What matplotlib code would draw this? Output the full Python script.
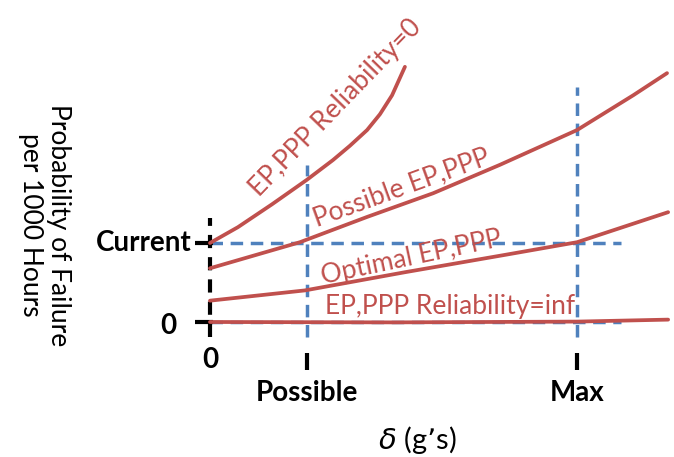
import matplotlib
matplotlib.use("Agg")
import matplotlib.pyplot as plt

plt.rcParams["font.family"] = ["Lato", "DejaVu Sans"]
plt.rcParams["lines.scale_dashes"] = False

RED = "#C0504D"
BLUE = "#4F81BD"

# Horizontal axis: delta in units of the maximum allowed acceleration
x_ticks = [0.0, 0.264, 1.0]
x_tick_labels = ["0", "Possible", "Max"]
# Vertical axis: probability of failure in units of the current value
y_ticks = [0.0, 1.0]
y_tick_labels = ["0", "Current"]

# Failure-probability curves vs. delta
rel0_x = [0.0, 0.076, 0.169, 0.264, 0.335, 0.381, 0.428, 0.463, 0.496, 0.531]
rel0_y = [1.00, 1.20, 1.49, 1.80, 2.05, 2.23, 2.43, 2.63, 2.87, 3.23]

possible_x = [0.0, 0.245, 0.428, 0.608, 0.790, 1.0, 1.153, 1.245]
possible_y = [0.68, 1.01, 1.33, 1.63, 1.99, 2.43, 2.87, 3.15]

optimal_x = [0.0, 0.259, 0.531, 0.804, 1.0, 1.248]
optimal_y = [0.27, 0.40, 0.63, 0.85, 1.01, 1.39]

relinf_x = [0.0, 0.5, 1.0, 1.248]
relinf_y = [0.0, -0.005, 0.005, 0.03]

fig = plt.figure(figsize=(6.74, 4.57), dpi=100)
ax = fig.add_axes([0, 0, 1, 1])
ax.set_xlim(-0.572, 1.264)
ax.set_ylim(-1.709, 4.076)
ax.axis("off")

# Reference guide lines (blue dashed)
blue_kw = dict(color=BLUE, lw=2.5, dashes=(9, 5.5), solid_capstyle="butt")
ax.plot([x_ticks[1], x_ticks[1]], [-0.19, 1.99], **blue_kw)
ax.plot([x_ticks[2], x_ticks[2]], [-0.19, 2.97], **blue_kw)
ax.plot([0, 1.12], [y_ticks[1], y_ticks[1]], **blue_kw)
ax.plot([0, 1.12], [y_ticks[0], y_ticks[0]], **blue_kw)

# Vertical axis (black dashed) with tick marks
ax.plot([0, 0], [-0.19, 1.32], color="black", lw=3, dashes=(9.5, 6.5))
for yv in y_ticks:
    ax.plot([-0.041, 0.008], [yv, yv], color="black", lw=3, solid_capstyle="butt")
for xv in x_ticks[1:]:
    ax.plot([xv, xv], [-0.39, -0.61], color="black", lw=3, solid_capstyle="butt")

# Curves
for xs, ys in [(relinf_x, relinf_y), (optimal_x, optimal_y),
               (possible_x, possible_y), (rel0_x, rel0_y)]:
    ax.plot(xs, ys, color=RED, lw=2.7, solid_capstyle="round",
            solid_joinstyle="round")

# Tick labels
tick_kw = dict(fontsize=20, fontweight="bold", color="black")
ax.text(-0.049, y_ticks[1], y_tick_labels[1], ha="right", va="center", **tick_kw)
ax.text(-0.112, y_ticks[0] - 0.05, y_tick_labels[0], ha="center", va="center", **tick_kw)
ax.text(x_ticks[0], -0.48, x_tick_labels[0], ha="center", va="center", **tick_kw)
ax.text(x_ticks[1], -0.90, x_tick_labels[1], ha="center", va="center", **tick_kw)
ax.text(x_ticks[2], -0.90, x_tick_labels[2], ha="center", va="center", **tick_kw)

# Axis titles
ax.text(0.565, -1.49, r"$\delta$ (g’s)", ha="center", va="center", fontsize=21)
ax.text(-0.45, 1.23, "Probability of Failure\nper 1000 Hours", rotation=270,
        ha="center", va="center", fontsize=19, linespacing=1.15)

# Curve labels
lab_kw = dict(color=RED, fontsize=19, ha="center", va="center",
              rotation_mode="anchor")
ax.text(0.341, 2.71, "EP,PPP Reliability=0", rotation=46, **lab_kw)
ax.text(0.523, 1.70, "Possible EP,PPP", rotation=20, **lab_kw)
ax.text(0.548, 0.81, "Optimal EP,PPP", rotation=12, **lab_kw)
ax.text(0.654, 0.19, "EP,PPP Reliability=inf", rotation=0, **lab_kw)

fig.savefig("out.png", dpi=100)
